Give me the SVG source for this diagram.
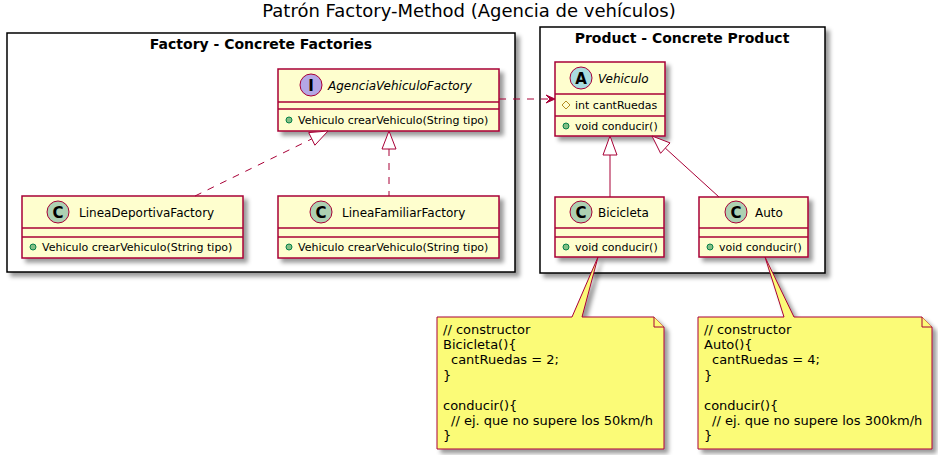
<svg xmlns="http://www.w3.org/2000/svg" width="938" height="455" viewBox="0 0 938 455">
<defs>
<filter id="sh" x="-10%" y="-10%" width="130%" height="130%">
<feGaussianBlur in="SourceAlpha" stdDeviation="2" result="b"/>
<feColorMatrix in="b" type="matrix" values="0 0 0 0 0 0 0 0 0 0 0 0 0 0 0 0 0 0 .4 0" result="b2"/>
<feOffset in="b2" dx="4" dy="4" result="b3"/>
<feMerge><feMergeNode in="b3"/><feMergeNode in="SourceGraphic"/></feMerge>
</filter>
<style>
text{font-family:"DejaVu Sans","Liberation Sans",sans-serif;fill:#000}
.title{font-size:18px}
.pkg{fill:#fff;stroke:#000;stroke-width:1.5}
.pkgt{font-size:14px;font-weight:bold;text-anchor:middle}
.cls{fill:#FEFECE;stroke:#A80036;stroke-width:1.5}
.div{stroke:#A80036;stroke-width:1.5}
.name{font-size:12px}
.it{font-style:italic}
.mem{font-size:11px}
.ic{stroke:#A80036;stroke-width:1}
.letter{font-size:15px;font-weight:bold;text-anchor:middle}
.pub{fill:#84BE84;stroke:#038048;stroke-width:1}
.prot{fill:none;stroke:#B38D22;stroke-width:1}
.note{fill:#FBFB77;stroke:#A80036;stroke-width:1}
.nt{font-size:13px}
.ln{fill:none;stroke:#A80036;stroke-width:1}
.dash{stroke-dasharray:7,7}
.tri{fill:#fff;stroke:#A80036;stroke-width:1}
.arr{fill:#A80036;stroke:#A80036;stroke-width:1}
</style>
</defs>
<rect width="938" height="455" fill="#fff"/>
<text class="title" x="469" y="17" text-anchor="middle">Patrón Factory-Method (Agencia de vehículos)</text>

<g id="pkg-factory">
<rect class="pkg" x="7" y="33" width="508" height="239" filter="url(#sh)"/>
<text class="pkgt" x="261" y="49">Factory - Concrete Factories</text>
</g>
<g id="pkg-product">
<rect class="pkg" x="540" y="27" width="285" height="246" filter="url(#sh)"/>
<text class="pkgt" x="682" y="43">Product - Concrete Product</text>
</g>

<g id="AgenciaVehiculoFactory">
<rect class="cls" x="278" y="69" width="221" height="62" filter="url(#sh)"/>
<circle class="ic" cx="311" cy="85" r="11" fill="#B4A7E5"/>
<text class="letter" x="311" y="90.5">I</text>
<text class="name it" x="328" y="90">AgenciaVehiculoFactory</text>
<line class="div" x1="278" y1="102" x2="499" y2="102"/>
<line class="div" x1="278" y1="109" x2="499" y2="109"/>
<circle class="pub" cx="289" cy="120" r="3"/>
<text class="mem" x="298" y="124">Vehiculo crearVehiculo(String tipo)</text>
</g>

<g id="LineaDeportivaFactory">
<rect class="cls" x="22" y="196" width="221" height="62" filter="url(#sh)"/>
<circle class="ic" cx="58" cy="212" r="11" fill="#ADD1B2"/>
<text class="letter" x="58" y="217.5">C</text>
<text class="name" x="79" y="217">LineaDeportivaFactory</text>
<line class="div" x1="22" y1="228" x2="243" y2="228"/>
<line class="div" x1="22" y1="237" x2="243" y2="237"/>
<circle class="pub" cx="33" cy="247" r="3"/>
<text class="mem" x="42" y="251">Vehiculo crearVehiculo(String tipo)</text>
</g>

<g id="LineaFamiliarFactory">
<rect class="cls" x="278" y="196" width="221" height="62" filter="url(#sh)"/>
<circle class="ic" cx="321" cy="212" r="11" fill="#ADD1B2"/>
<text class="letter" x="321" y="217.5">C</text>
<text class="name" x="342" y="217">LineaFamiliarFactory</text>
<line class="div" x1="278" y1="228" x2="499" y2="228"/>
<line class="div" x1="278" y1="237" x2="499" y2="237"/>
<circle class="pub" cx="289" cy="247" r="3"/>
<text class="mem" x="298" y="251">Vehiculo crearVehiculo(String tipo)</text>
</g>

<g id="Vehiculo">
<rect class="cls" x="555" y="62" width="110" height="74" filter="url(#sh)"/>
<circle class="ic" cx="581" cy="78" r="11" fill="#A9DCDF"/>
<text class="letter" x="581" y="83.5">A</text>
<text class="name it" x="598" y="83">Vehiculo</text>
<line class="div" x1="555" y1="94" x2="665" y2="94"/>
<path class="prot" d="M566,101 L570,105 L566,109 L562,105 Z"/>
<text class="mem" x="575" y="109">int cantRuedas</text>
<line class="div" x1="555" y1="116" x2="665" y2="116"/>
<circle class="pub" cx="566" cy="126" r="3"/>
<text class="mem" x="575" y="130">void conducir()</text>
</g>

<g id="Bicicleta">
<rect class="cls" x="555" y="197" width="109" height="60" filter="url(#sh)"/>
<circle class="ic" cx="581" cy="212" r="11" fill="#ADD1B2"/>
<text class="letter" x="581" y="217.5">C</text>
<text class="name" x="598" y="217">Bicicleta</text>
<line class="div" x1="555" y1="228" x2="664" y2="228"/>
<line class="div" x1="555" y1="237" x2="664" y2="237"/>
<circle class="pub" cx="566" cy="247" r="3"/>
<text class="mem" x="575" y="251">void conducir()</text>
</g>

<g id="Auto">
<rect class="cls" x="699" y="197" width="109" height="60" filter="url(#sh)"/>
<circle class="ic" cx="736" cy="212" r="11" fill="#ADD1B2"/>
<text class="letter" x="736" y="217.5">C</text>
<text class="name" x="755" y="217">Auto</text>
<line class="div" x1="699" y1="228" x2="808" y2="228"/>
<line class="div" x1="699" y1="237" x2="808" y2="237"/>
<circle class="pub" cx="710" cy="247" r="3"/>
<text class="mem" x="719" y="251">void conducir()</text>
</g>

<g id="note-bicicleta">
<path class="note" d="M437,317 L572,317 L598,257 L582,317 L654,317 L664,327 L664,449 L437,449 Z" filter="url(#sh)"/>
<path class="note" d="M654,317 L654,327 L664,327"/>
<text class="nt" x="443" y="334">// constructor</text>
<text class="nt" x="443" y="349">Bicicleta(){</text>
<text class="nt" x="451" y="364">cantRuedas = 2;</text>
<text class="nt" x="443" y="380">}</text>
<text class="nt" x="443" y="410">conducir(){</text>
<text class="nt" x="451" y="425">// ej. que no supere los 50km/h</text>
<text class="nt" x="443" y="440">}</text>
</g>

<g id="note-auto">
<path class="note" d="M698,317 L784,317 L765,257 L794,317 L922,317 L932,327 L932,449 L698,449 Z" filter="url(#sh)"/>
<path class="note" d="M922,317 L922,327 L932,327"/>
<text class="nt" x="704" y="334">// constructor</text>
<text class="nt" x="704" y="349">Auto(){</text>
<text class="nt" x="712" y="364">cantRuedas = 4;</text>
<text class="nt" x="704" y="380">}</text>
<text class="nt" x="704" y="410">conducir(){</text>
<text class="nt" x="712" y="425">// ej. que no supere los 300km/h</text>
<text class="nt" x="704" y="440">}</text>
</g>

<g id="connectors">
<line class="ln dash" x1="499" y1="99" x2="552" y2="99"/>
<polygon class="arr" points="555,99 546,95 550,99 546,103"/>
<line class="ln dash" x1="195" y1="196" x2="311.8" y2="138.9"/>
<polygon class="tri" points="328,131 308.7,132.6 314.9,145.2"/>
<line class="ln dash" x1="389" y1="149" x2="389" y2="196"/>
<polygon class="tri" points="389,131 382,149 396,149"/>
<line class="ln" x1="610" y1="155" x2="610" y2="197"/>
<polygon class="tri" points="610,136 603,155 617,155"/>
<line class="ln" x1="665.3" y1="148.1" x2="719" y2="197"/>
<polygon class="tri" points="652,136 660.6,153.3 670,142.9"/>
</g>
</svg>
